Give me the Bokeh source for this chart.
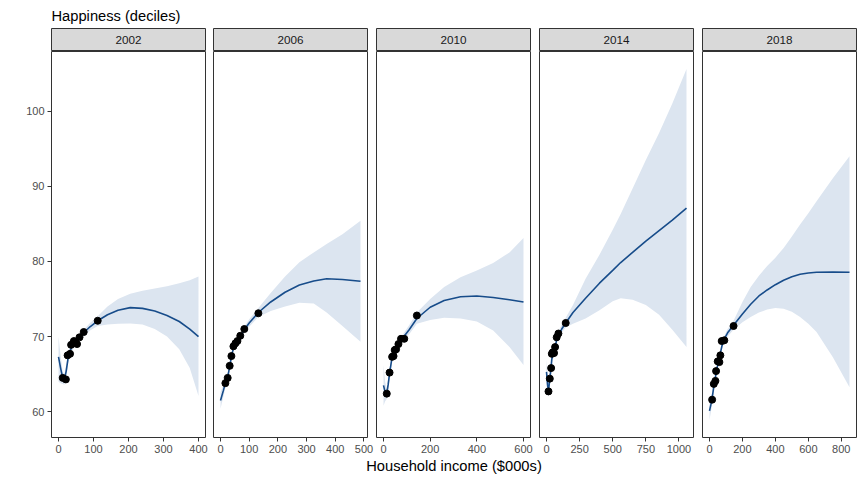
from bokeh.plotting import figure
from bokeh.models import Range1d, Label, FixedTicker
from bokeh.layouts import column, row
from bokeh.embed import file_html
from bokeh.resources import INLINE

years = ["2002", "2006", "2010", "2014", "2018"]

# ---- decile points (income $000s, happiness) ----
x_2002_pts = [12, 21, 26, 33, 36, 44, 53, 60, 72, 112]
y_2002_pts = [64.5, 64.3, 67.5, 67.7, 68.9, 69.4, 69.0, 69.9, 70.6, 72.1]
x_2006_pts = [17, 25, 32, 38, 45, 52, 59, 69, 83, 132]
y_2006_pts = [63.8, 64.5, 66.1, 67.4, 68.7, 69.1, 69.4, 70.1, 71.0, 73.1]
x_2010_pts = [14, 26, 37, 43, 48, 54, 64, 75, 89, 143]
y_2010_pts = [62.4, 65.2, 67.3, 67.4, 68.2, 68.3, 69.0, 69.7, 69.7, 72.8]
x_2014_pts = [15, 25, 35, 40, 47, 57, 65, 77, 90, 145]
y_2014_pts = [62.7, 64.4, 65.8, 67.7, 67.9, 67.8, 68.6, 69.9, 70.4, 71.8]
x_2018_pts = [16, 26, 36, 40, 50, 60, 66, 74, 90, 146]
y_2018_pts = [61.6, 63.7, 64.1, 65.4, 66.7, 66.6, 67.5, 69.4, 69.5, 71.4]

# ---- smoothed fit with confidence band ----
x_2002_fit = [0, 6, 12, 17, 22, 27, 33, 40, 50, 60, 72, 90, 112, 140, 170, 205, 240, 275, 310, 345, 375, 400]
y_2002_fit = [67.3, 65.8, 64.5, 64.3, 65.4, 67.0, 68.1, 68.8, 69.3, 69.8, 70.5, 71.3, 72.1, 72.9, 73.5, 73.85, 73.75, 73.4, 72.8, 72.0, 71.0, 70.0]
hi_2002_fit = [70.0, 67.5, 65.3, 65.0, 66.2, 67.7, 68.6, 69.3, 69.8, 70.3, 70.9, 71.8, 72.7, 74.0, 75.0, 75.7, 76.1, 76.4, 76.7, 77.1, 77.5, 78.0]
lo_2002_fit = [64.0, 63.8, 63.7, 63.6, 64.6, 66.3, 67.5, 68.2, 68.8, 69.3, 70.0, 70.8, 71.4, 71.6, 71.7, 71.75, 71.6, 71.0, 70.0, 68.3, 65.8, 62.1]

x_2006_fit = [0, 10, 17, 25, 32, 38, 45, 52, 59, 69, 83, 100, 132, 175, 225, 275, 325, 370, 425, 488]
y_2006_fit = [61.5, 62.8, 63.8, 64.6, 66.0, 67.3, 68.5, 69.0, 69.4, 70.0, 70.9, 71.8, 73.2, 74.6, 75.9, 76.85, 77.4, 77.7, 77.6, 77.35]
hi_2006_fit = [62.6, 63.6, 64.4, 65.1, 66.4, 67.7, 68.9, 69.4, 69.8, 70.4, 71.3, 72.3, 73.8, 75.8, 78.0, 79.9, 81.2, 82.3, 83.6, 85.4]
lo_2006_fit = [60.4, 62.0, 63.2, 64.1, 65.6, 66.9, 68.1, 68.6, 69.0, 69.6, 70.5, 71.3, 72.6, 73.4, 74.0, 74.5, 74.4, 73.2, 71.4, 69.3]

x_2010_fit = [0, 7, 14, 20, 26, 36, 42, 50, 54, 64, 78, 90, 110, 143, 200, 260, 330, 400, 470, 540, 600]
y_2010_fit = [63.5, 62.6, 62.4, 63.6, 65.1, 67.1, 67.6, 68.2, 68.4, 68.9, 69.6, 70.1, 70.9, 72.4, 73.9, 74.8, 75.3, 75.4, 75.2, 74.9, 74.6]
hi_2010_fit = [66.2, 64.0, 63.1, 64.3, 65.7, 67.6, 68.1, 68.7, 68.9, 69.4, 70.1, 70.6, 71.5, 73.2, 75.0, 76.6, 77.9, 78.8, 79.8, 81.2, 83.1]
lo_2010_fit = [60.8, 61.4, 61.7, 62.9, 64.5, 66.6, 67.1, 67.7, 67.9, 68.4, 69.1, 69.6, 70.3, 71.7, 72.2, 72.5, 72.4, 72.0, 70.8, 68.6, 66.2]

x_2014_fit = [0, 8, 15, 25, 34, 40, 50, 57, 65, 77, 90, 115, 145, 200, 295, 400, 500, 560, 650, 750, 850, 950, 1057]
y_2014_fit = [65.3, 63.6, 62.8, 64.3, 65.8, 67.0, 67.6, 68.0, 68.6, 69.6, 70.2, 71.0, 71.8, 73.2, 75.1, 77.1, 78.8, 79.85, 81.2, 82.7, 84.1, 85.5, 87.1]
hi_2014_fit = [67.0, 64.8, 63.5, 64.9, 66.3, 67.5, 68.1, 68.5, 69.1, 70.1, 70.7, 71.6, 72.5, 74.2, 77.7, 80.9, 84.2, 86.3, 89.7, 93.5, 97.1, 101.0, 105.6]
lo_2014_fit = [62.5, 62.2, 62.1, 63.6, 65.2, 66.4, 67.1, 67.5, 68.1, 69.1, 69.7, 70.5, 71.2, 71.7, 72.4, 73.5, 74.7, 75.1, 74.9, 74.2, 72.9, 70.9, 68.6]

x_2018_fit = [0, 8, 16, 26, 36, 45, 55, 66, 75, 90, 110, 146, 200, 250, 300, 350, 400, 450, 500, 550, 600, 650, 750, 850]
y_2018_fit = [60.1, 60.9, 61.8, 63.3, 64.6, 65.7, 66.8, 67.8, 68.7, 69.7, 70.5, 71.5, 73.0, 74.3, 75.4, 76.2, 76.9, 77.5, 77.95, 78.3, 78.45, 78.55, 78.6, 78.55]
hi_2018_fit = [61.5, 62.0, 62.6, 63.9, 65.1, 66.2, 67.2, 68.2, 69.1, 70.1, 71.0, 72.1, 74.6, 76.6, 78.1, 79.4, 80.5, 81.8, 83.3, 84.9, 86.4, 88.0, 91.1, 94.0]
lo_2018_fit = [58.9, 59.9, 61.0, 62.7, 64.1, 65.2, 66.4, 67.4, 68.3, 69.3, 70.0, 70.9, 71.9, 72.6, 73.2, 73.6, 73.8, 73.7, 73.3, 72.6, 71.7, 70.6, 67.2, 63.25]

# ---- axis ticks ----
y_ticks = [60, 70, 80, 90, 100]
x_ticks_2002 = [0, 100, 200, 300, 400]
x_ticks_2006 = [0, 100, 200, 300, 400, 500]
x_ticks_2010 = [0, 200, 400, 600]
x_ticks_2014 = [0, 250, 500, 750, 1000]
x_ticks_2018 = [0, 200, 400, 600, 800]

title_text = "Happiness (deciles)"
xlabel_text = "Household income ($000s)"

panels = [
    (x_2002_pts, y_2002_pts, x_2002_fit, y_2002_fit, lo_2002_fit, hi_2002_fit, x_ticks_2002),
    (x_2006_pts, y_2006_pts, x_2006_fit, y_2006_fit, lo_2006_fit, hi_2006_fit, x_ticks_2006),
    (x_2010_pts, y_2010_pts, x_2010_fit, y_2010_fit, lo_2010_fit, hi_2010_fit, x_ticks_2010),
    (x_2014_pts, y_2014_pts, x_2014_fit, y_2014_fit, lo_2014_fit, hi_2014_fit, x_ticks_2014),
    (x_2018_pts, y_2018_pts, x_2018_fit, y_2018_fit, lo_2018_fit, hi_2018_fit, x_ticks_2018),
]

FONT = "Liberation Sans"
LINE_COLOR = "#174C8A"
BAND_COLOR = "#DCE5F0"
BORDER = "#333333"

# shared y range with 5% expansion
all_lo = min(min(p[4]) for p in panels)
all_hi = max(max(p[5]) for p in panels)
span = all_hi - all_lo
y_range = Range1d(all_lo - 0.05 * span, all_hi + 0.05 * span)

FW, FH = 154, 386
LEFT = 51
borders = [(LEFT, 4), (4, 8), (1, 4), (5, 4), (5, 4)]
total_w = sum(l + FW + r for l, r in borders)

TITLE_H = 28
# title
tfig = figure(width=total_w, height=TITLE_H, x_range=Range1d(0, total_w), y_range=Range1d(0, TITLE_H),
              min_border=0, x_axis_location=None, y_axis_location=None,
              outline_line_color=None, toolbar_location=None, output_backend="svg")
tfig.grid.visible = False
tfig.add_layout(Label(x=LEFT, y=12.8, text=title_text, text_font=FONT, text_font_size="14.7px",
                      text_color="black", text_baseline="alphabetic", text_align="left"))

strips = []
figs = []
for i, (xp, yp, xf, yf, lof, hif, xt) in enumerate(panels):
    ml, mr = borders[i]
    s = figure(frame_width=FW, frame_height=23, x_range=Range1d(0, 1), y_range=Range1d(0, 1),
               min_border_left=ml, min_border_right=mr, min_border_top=0, min_border_bottom=0,
               x_axis_location=None, y_axis_location=None, background_fill_color="#D9D9D9",
               outline_line_color=BORDER, outline_line_width=1,
               toolbar_location=None, output_backend="svg")
    s.grid.visible = False
    s.add_layout(Label(x=0.5, y=0.5, text=years[i], text_font=FONT, text_font_size="11.7px",
                       text_color="#1A1A1A", text_align="center", text_baseline="middle"))
    strips.append(s)

    xspan = max(xf) - min(xf)
    xr = Range1d(min(xf) - 0.05 * xspan, max(xf) + 0.05 * xspan)
    p = figure(frame_width=FW, frame_height=FH, x_range=xr, y_range=y_range,
               min_border_left=ml, min_border_right=mr, min_border_top=0, min_border_bottom=20,
               y_axis_location="left" if i == 0 else None,
               outline_line_color=BORDER, outline_line_width=1,
               toolbar_location=None, output_backend="svg")
    p.grid.visible = False
    p.varea(x=xf, y1=lof, y2=hif, fill_color=BAND_COLOR, fill_alpha=1.0)
    p.line(x=xf, y=yf, line_color=LINE_COLOR, line_width=1.6)
    p.scatter(x=xp, y=yp, size=7, fill_color="black", line_color="black")

    for ax in p.axis:
        ax.axis_line_color = None
        ax.major_tick_line_color = BORDER
        ax.major_tick_out = 4
        ax.major_tick_in = 0
        ax.minor_tick_line_color = None
        ax.major_label_text_font = FONT
        ax.major_label_text_font_size = "11px"
        ax.major_label_text_color = "#4D4D4D"
        ax.major_label_standoff = 3
    p.xaxis.ticker = FixedTicker(ticks=xt)
    if i == 0:
        p.yaxis.ticker = FixedTicker(ticks=y_ticks)
    figs.append(p)

XL_H = 22
xfig = figure(width=total_w, height=XL_H, x_range=Range1d(0, total_w), y_range=Range1d(0, XL_H),
              min_border=0, x_axis_location=None, y_axis_location=None,
              outline_line_color=None, toolbar_location=None, output_backend="svg")
xfig.grid.visible = False
center_x = LEFT + (total_w - LEFT - 4) / 2
xfig.add_layout(Label(x=center_x, y=13.3, text=xlabel_text, text_font=FONT, text_font_size="14.7px",
                      text_color="black", text_baseline="alphabetic", text_align="center"))

layout = column(tfig, row(*strips), row(*figs), xfig)

open("out.html", "w").write(file_html(layout, INLINE))
